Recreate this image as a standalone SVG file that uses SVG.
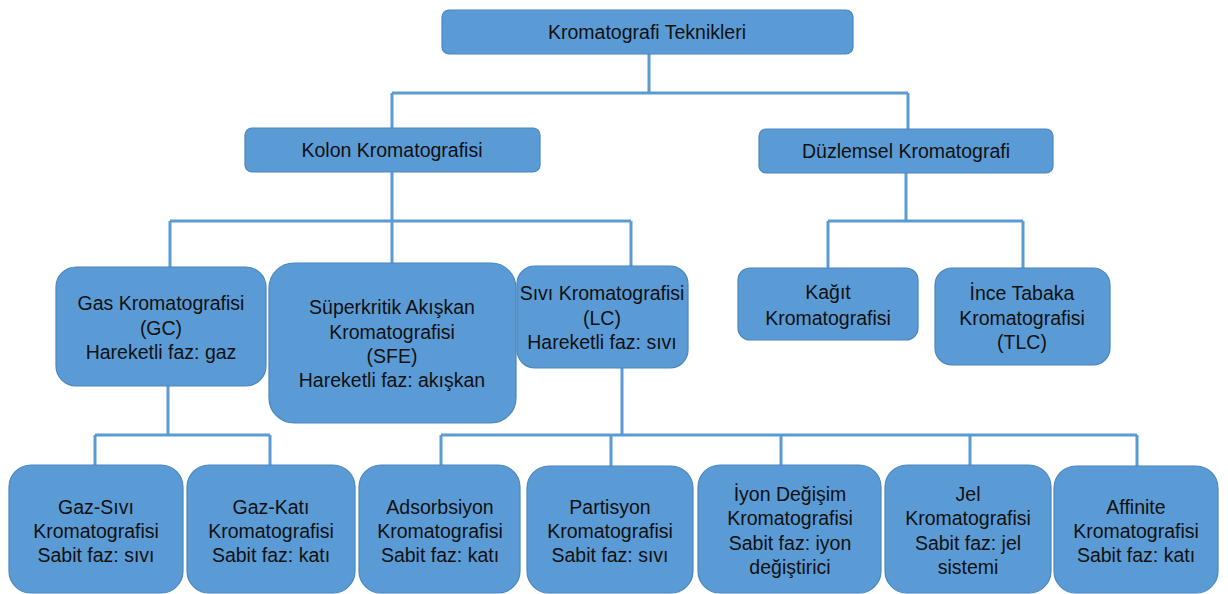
<svg xmlns="http://www.w3.org/2000/svg" width="1228" height="594" viewBox="0 0 1228 594">
<style>
.n{fill:#5B9BD5;stroke:#4A86BE;stroke-width:1.2}
.t{font-family:"Liberation Sans",Arial,sans-serif;font-size:19.5px;fill:#111;text-anchor:middle}
.c{fill:none;stroke:#5B9BD5;stroke-width:3}
</style>
<rect width="1228" height="594" fill="#fff"/>
<g id="connectors" class="c">
<path d="M649 54V93M392 93H908M392 93V128M908 93V129"/>
<path d="M392 172V221M170 221H631M170 221V267M392 221V263M631 221V266"/>
<path d="M906 173V221M828 221H1023M828 221V268M1023 221V268"/>
<path d="M168 386V435M95 435H270M95 435V465M270 435V465"/>
<path d="M622 368V435M441 435H1137M441 435V465M611 435V466M781 435V465M970 435V465M1137 435V466"/>
</g>
<g id="n-root"><rect class="n" x="442" y="10" width="411" height="44" rx="7"/><text class="t" x="647" y="39">Kromatografi Teknikleri</text></g>
<g id="n-kolon"><rect class="n" x="245" y="128" width="295" height="44" rx="7"/><text class="t" x="392" y="157">Kolon Kromatografisi</text></g>
<g id="n-duzlemsel"><rect class="n" x="759" y="129" width="294" height="44" rx="7"/><text class="t" x="906" y="158">Düzlemsel Kromatografi</text></g>
<g id="n-gc"><rect class="n" x="56" y="267" width="210" height="119" rx="20"/><text class="t" x="161" y="310">Gas Kromatografisi</text><text class="t" x="161" y="335">(GC)</text><text class="t" x="161" y="359">Hareketli faz: gaz</text></g>
<g id="n-sfe"><rect class="n" x="269" y="263" width="247" height="160" rx="25"/><text class="t" x="392" y="314">Süperkritik Akışkan</text><text class="t" x="392" y="339">Kromatografisi</text><text class="t" x="392" y="363">(SFE)</text><text class="t" x="392" y="387">Hareketli faz: akışkan</text></g>
<g id="n-lc"><rect class="n" x="517" y="266" width="171" height="102" rx="18"/><text class="t" x="602" y="300">Sıvı Kromatografisi</text><text class="t" x="602" y="325">(LC)</text><text class="t" x="602" y="349">Hareketli faz: sıvı</text></g>
<g id="n-kagit"><rect class="n" x="738" y="268" width="180" height="72" rx="12"/><text class="t" x="828" y="299">Kağıt</text><text class="t" x="828" y="325">Kromatografisi</text></g>
<g id="n-tlc"><rect class="n" x="935" y="268" width="175" height="97" rx="17"/><text class="t" x="1022" y="300">İnce Tabaka</text><text class="t" x="1022" y="325">Kromatografisi</text><text class="t" x="1022" y="349">(TLC)</text></g>
<g id="n-gazsivi"><rect class="n" x="9" y="465" width="174" height="128" rx="22"/><text class="t" x="96" y="514">Gaz-Sıvı</text><text class="t" x="96" y="538">Kromatografisi</text><text class="t" x="96" y="562">Sabit faz: sıvı</text></g>
<g id="n-gazkati"><rect class="n" x="187" y="465" width="168" height="128" rx="22"/><text class="t" x="271" y="514">Gaz-Katı</text><text class="t" x="271" y="538">Kromatografisi</text><text class="t" x="271" y="562">Sabit faz: katı</text></g>
<g id="n-adsorbsiyon"><rect class="n" x="359" y="465" width="161" height="128" rx="22"/><text class="t" x="440" y="514">Adsorbsiyon</text><text class="t" x="440" y="538">Kromatografisi</text><text class="t" x="440" y="562">Sabit faz: katı</text></g>
<g id="n-partisyon"><rect class="n" x="527" y="466" width="166" height="127" rx="22"/><text class="t" x="610" y="514">Partisyon</text><text class="t" x="610" y="538">Kromatografisi</text><text class="t" x="610" y="562">Sabit faz: sıvı</text></g>
<g id="n-iyon"><rect class="n" x="698" y="465" width="183" height="128" rx="22"/><text class="t" x="790" y="501">İyon Değişim</text><text class="t" x="790" y="525">Kromatografisi</text><text class="t" x="790" y="550">Sabit faz: iyon</text><text class="t" x="790" y="574">değiştirici</text></g>
<g id="n-jel"><rect class="n" x="885" y="465" width="166" height="128" rx="22"/><text class="t" x="968" y="501">Jel</text><text class="t" x="968" y="525">Kromatografisi</text><text class="t" x="968" y="550">Sabit faz: jel</text><text class="t" x="968" y="574">sistemi</text></g>
<g id="n-affinite"><rect class="n" x="1054" y="466" width="164" height="127" rx="22"/><text class="t" x="1136" y="514">Affinite</text><text class="t" x="1136" y="538">Kromatografisi</text><text class="t" x="1136" y="562">Sabit faz: katı</text></g>
</svg>
